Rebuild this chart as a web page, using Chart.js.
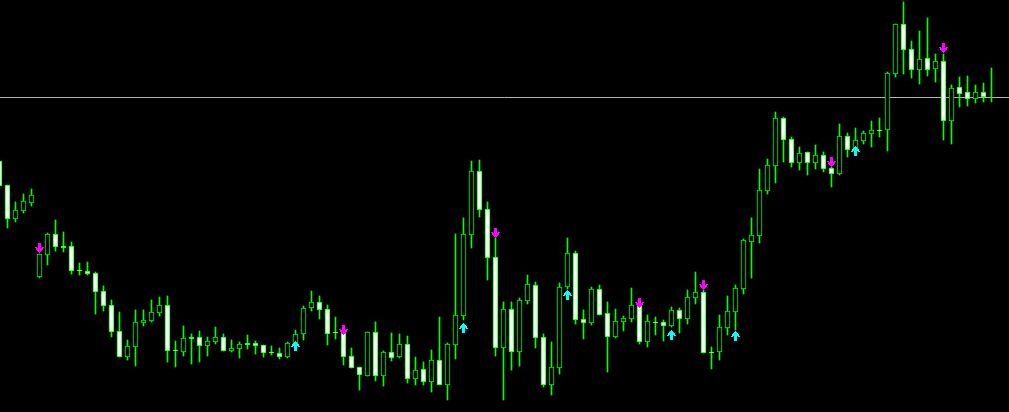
<!DOCTYPE html>
<html>
<head>
<meta charset="utf-8">
<title>Candles</title>
<script src="https://cdn.jsdelivr.net/npm/chart.js@4.4.1/dist/chart.umd.min.js"></script>
<style>
    html, body { margin: 0; padding: 0; background: #000; overflow: hidden; }
    canvas { display: block; }
</style>
</head>
<body>
<canvas id="priceChart" width="1009" height="412"></canvas>
<script>
// Price values in points (bar 0 is the leftmost, partly cut off)
const opens = [251,227,193,201,209,135,157,178,166,166, 142,141,139,121,107,81,55,65,89,91,
    99,107,62,60,75,75,66,70,75,61, 63,69,69,67,60,59,55,68,78,104,
    110,103,80,79,56,45,36,80,36,60, 55,68,33,43,30,52,27,67,96,177,
    241,203,155,64,103,60,111,127,75,27, 44,125,159,93,89,123,99,75,90,93,
    107,70,90,90,86,102,93,114,120,60, 60,84,100,123,170,176,221,246,294,273,
    249,260,249,257,244,238,276,263,271,278, 282,282,338,388,363,342,354,343,351,291,
    325,320,313,320,315];
const highs = [251,227,210,218,223,158,179,192,180,170, 149,150,140,126,112,100,72,102,102,112,
    115,116,71,86,78,81,75,85,78,72, 70,77,71,67,66,64,70,82,106,121,
    116,107,95,79,64,45,80,90,61,79, 78,76,55,50,62,95,69,178,194,251,
    252,210,175,110,110,114,137,130,78,70, 129,174,161,102,125,127,110,103,96,124,
    107,97,95,92,105,104,122,140,122,65, 97,116,127,173,194,243,253,300,295,275,
    265,260,267,260,245,288,279,284,281,291, 294,340,388,410,371,381,394,358,358,327,
    335,336,327,329,344];
const lows = [226,184,190,199,206,134,147,161,160,138, 137,137,98,101,75,55,52,46,86,90,
    96,50,45,56,48,50,56,68,61,60, 54,63,58,55,57,53,54,68,72,101,
    93,67,73,47,44,22,36,31,26,51, 54,29,27,27,20,27,12,53,92,164,
    195,132,56,12,42,46,108,64,25,17, 38,123,88,73,87,97,40,74,81,90,
    68,65,77,71,85,79,88,108,59,43, 52,77,82,118,134,169,218,229,250,245,
    242,237,243,240,225,237,255,262,268,265, 275,261,335,338,334,328,336,330,272,268,
    305,306,309,310,310];
const closes = [226,193,202,211,217,158,178,165,164,141, 141,138,120,106,80,55,66,90,92,100,
    107,61,61,74,73,66,71,75,61,64, 68,67,66,59,59,55,69,78,104,110,
    102,78,79,55,44,37,80,36,60,54, 68,33,42,30,52,27,68,97,178,241,
    202,154,64,103,60,112,128,74,27,45, 125,159,92,89,123,97,75,91,94,107,
    70,91,89,86,102,93,115,120,59,59, 85,101,124,172,177,222,247,294,272,249,
    259,249,257,243,238,276,262,272,279,282, 281,339,388,362,342,353,342,351,291,324,
    318,313,320,315,315];

// Signal arrows: bar index and level
const sellBars = [5, 43, 62, 80, 88, 104, 118];
const sellLevels = [164, 82, 179, 109, 127, 250, 364];
const buyBars = [37, 58, 71, 84, 92, 107];
const buyLevels = [66, 84, 117, 77, 76, 261];

const bidLevel = 314.5;

const GREEN = '#00ff00';

// Small arrow images used as point styles
function makeArrow(color, down) {
    const c = document.createElement('canvas');
    c.width = 9;
    c.height = 10;
    const ctx = c.getContext('2d');
    ctx.fillStyle = color;
    const rows = [
        [3, 5], [3, 5], [3, 5], [3, 5],
        [0, 8], [1, 7], [1, 7], [2, 6], [3, 5], [4, 4]
    ];
    rows.forEach((r, i) => {
        const y = down ? i : 9 - i;
        if (i === 4) {
            ctx.fillRect(0, y, 2, 1);
            ctx.fillRect(3, y, 3, 1);
            ctx.fillRect(7, y, 2, 1);
        } else if (i === 5) {
            ctx.fillRect(1, y, 7, 1);
        } else {
            ctx.fillRect(r[0], y, r[1] - r[0] + 1, 1);
        }
    });
    return c;
}

document.addEventListener('DOMContentLoaded', function() {
    const bodies = opens.map((o, i) => ({ x: i, y: [o, closes[i]] }));
    const wicks = lows.map((l, i) => ({ x: i, y: [l, highs[i]] }));
    const bodyColors = opens.map((o, i) => closes[i] > o ? '#000000' : '#ffffff');

    const sells = sellBars.map((b, i) => ({ x: b, y: sellLevels[i] }));
    const buys = buyBars.map((b, i) => ({ x: b, y: buyLevels[i] }));

    new Chart(document.getElementById('priceChart'), {
        type: 'bar',
        data: {
            datasets: [
                {
                    type: 'scatter',
                    data: sells,
                    pointStyle: makeArrow('#ff00ff', true),
                    order: -1
                },
                {
                    type: 'scatter',
                    data: buys,
                    pointStyle: makeArrow('#00ffff', false),
                    order: -1
                },
                {
                    data: bodies,
                    backgroundColor: bodyColors,
                    borderColor: GREEN,
                    borderWidth: 1,
                    borderSkipped: false,
                    barThickness: 5,
                    grouped: false,
                    order: 0
                },
                {
                    data: wicks,
                    backgroundColor: GREEN,
                    borderWidth: 0,
                    barThickness: 1,
                    grouped: false,
                    order: 1
                },
                {
                    type: 'line',
                    data: [{ x: -2, y: bidLevel }, { x: 130, y: bidLevel }],
                    borderColor: '#b4b4b4',
                    borderWidth: 1,
                    pointRadius: 0,
                    order: 2
                }
            ]
        },
        options: {
            responsive: false,
            animation: false,
            devicePixelRatio: 1,
            layout: { padding: 0, autoPadding: false },
            plugins: {
                legend: { display: false },
                tooltip: { enabled: false }
            },
            scales: {
                x: {
                    type: 'linear',
                    min: 0.0625,
                    max: 126.1875,
                    offset: false,
                    display: false
                },
                y: {
                    min: 0,
                    max: 412,
                    display: false
                }
            }
        }
    });
});
</script>
</body>
</html>
